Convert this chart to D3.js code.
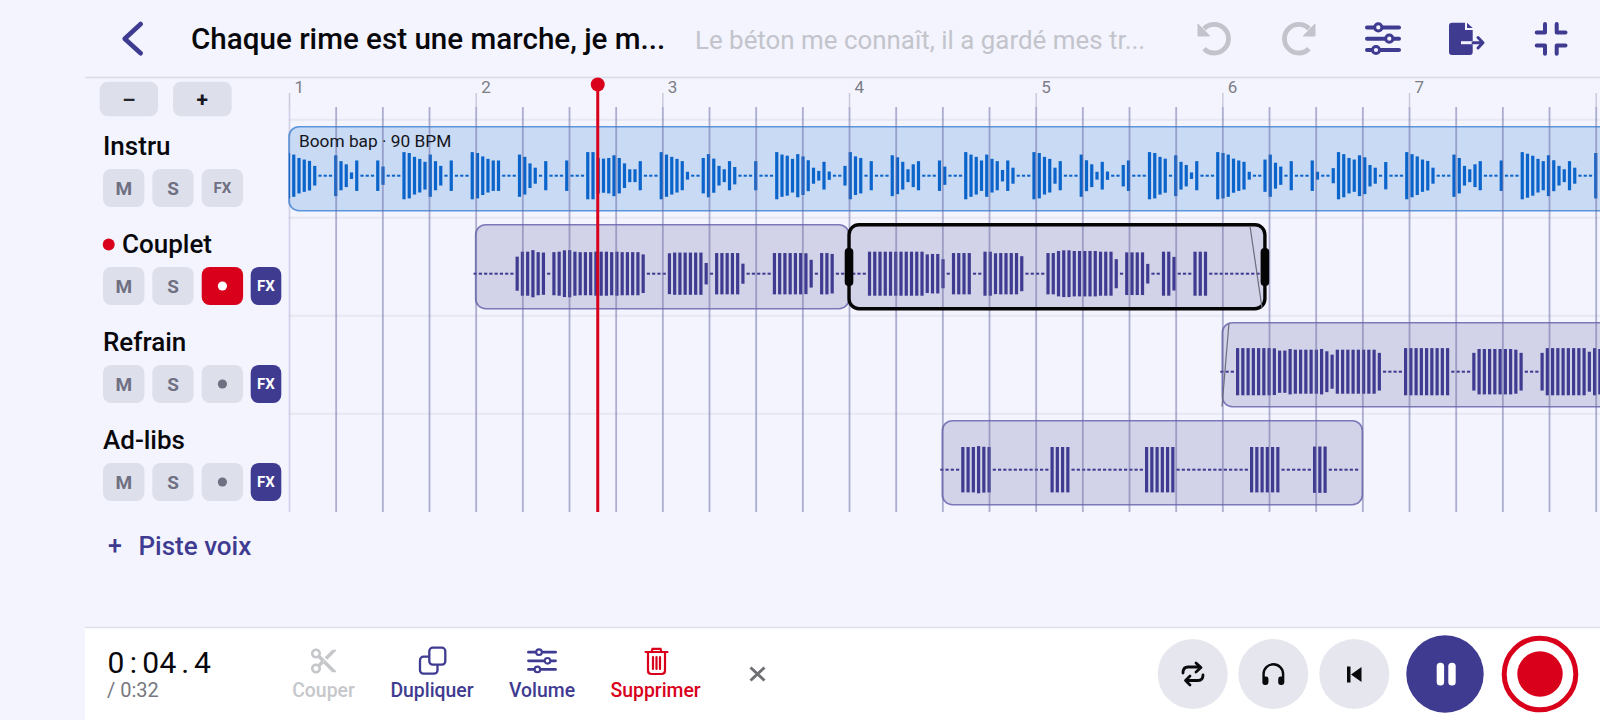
<!DOCTYPE html>
<html>
<head>
<meta charset="utf-8">
<script src="https://cdn.jsdelivr.net/npm/d3@7"></script>
<style>
  html, body { margin: 0; padding: 0; background: #f3f4fe; overflow: hidden; }
  text { font-family: Roboto, sans-serif; }
</style>
</head>
<body>
<script>
// Data
var trackNames = ['Instru', 'Couplet', 'Refrain', 'Ad-libs'];
var barLines = [1, 2, 3, 4, 5, 6, 7, 8];
var lastBarLabel = 7;
var beatsPerBar = 4;
var barsShown = 7.25;
var playheadBar = 2.654;
var timeNow = '0:04.4';
var timeTotal = '/ 0:32';
var clipLabel = 'Boom bap · 90 BPM';

// amplitude per sample, 0 = silence (drawn as a little dash)
var instruWave = [
  .96,.89,.74,.67,.61,.39,0,0,0,.86,.6,.46,.1,.63,0,0,0,.63,.36,0,0,0,
  1,.96,.79,.7,.57,.89,.6,.39,0,.63,0,0,0,1,.96,.81,.7,.63,.63,0,0,0,
  .89,.79,.5,.31,0,.6,0,0,0,.63,0,0,0,1,1,.74,.71,.74,.86,.74,.5,.24,.24,.6,0,0,0,
  1,.89,.79,.7,.6,.13,0,0,.74,.91,.71,.39,.24,.6,.34,0,0,0,.6,0,0,0,
  1,.89,.84,.7,.91,.81,.64,.31,.17,.57,.14,0,0,.39,1,.81,.74,0,.6,0,0,0,
  .86,.77,.57,.24,.46,.6,0,0,0,.63,.36,0,0,0,1,.89,.79,.63,.89,.7,.6,.21,.63,.31,0,0,0,
  1,.96,.79,.7,.31,.6,0,0,0,.89,.64,.46,.13,.57,.14,0,0,.43,.63,0,0,0,
  1,.96,.79,.71,0,.86,.57,.43,.1,.6,0,0,0,1,.96,.89,.71,.63,.57,.13,0,0,
  .67,.89,.53,.36,0,.6,0,0,0,.63,.13,0,0,.29,1,.91,.74,.67,.86,.77,.43,.31,0,.56,0,0,0,
  1,.91,.81,.67,.61,.31,0,0,0,.89,.74,.39,.24,.46,.6,0,0,0,.63,0,0,0,
  1,.93,.84,.7,.6,.86,.64,.39,.24,.6,.31,0,0,0,.96
];
var coupletWaveA = [
  0,0,0,0,0,0,0,0,.71,.93,.93,1,.91,.89,0,.91,.93,.99,1,.93,
  .91,.91,.91,.93,.93,.93,.91,.93,.91,.91,.91,.91,.81,0,0,0,0,
  .86,.89,.89,.89,.89,.89,.89,.43,0,.87,.87,.87,.87,.87,.4,0,0,0,0,0,
  .87,.87,.87,.87,.87,.87,.86,.57,0,.87,.87,.83,0,0
];
var coupletWaveB = [
  0,0,0,0,.93,.93,.93,.93,.93,.93,.93,.93,.93,.93,.93,.81,.83,.83,.6,0,
  .87,.87,.87,.87,0,0,.93,.93,.86,.87,.87,.87,.87,.73,0,0,0,0,
  .87,.87,.96,.99,.99,.96,.96,.96,.96,.96,.93,.93,.93,.6,0,
  .9,.9,.9,.9,.39,0,0,.93,.93,.7,0,0,0,.93,.93,.93,
  0,0,0,0,0,0,0,0,0,0
];
var refrainWave = [
  0,0,0,1,1,1,1,1,1,1,.99,.89,.89,.96,.93,.93,.93,.93,.93,.96,.86,.71,
  .93,.93,.93,.93,.93,.93,.93,.93,.79,0,0,0,0,
  1,1,1,1,1,1,1,1,1,0,0,0,0,.79,.96,.96,.96,.96,.96,.96,.96,.93,.79,0,0,0,
  .79,1,1,1,1,1,1,1,1,.84,1,.96
];
var adlibsWave = [
  0,0,0,0,.96,.96,.96,1,.97,.96,0,0,0,0,0,0,0,0,0,0,0,
  .96,.96,.96,.96,0,0,0,0,0,0,0,0,0,0,0,0,0,0,
  .96,.96,.96,.96,.96,.96,0,0,0,0,0,0,0,0,0,0,0,0,0,0,
  .96,.96,.96,.96,.96,.96,0,0,0,0,0,0,.98,.98,.98,0,0,0,0,0,0
];

// clips: start and end in bars
var clips = [
  {track: 0, start: 1, end: 9, wave: instruWave, kind: 'instru'},
  {track: 1, start: 2, end: 4, wave: coupletWaveA, kind: 'voice'},
  {track: 1, start: 4, end: 6.228, wave: coupletWaveB, kind: 'voice', selected: true},
  {track: 2, start: 6, end: 9, wave: refrainWave, kind: 'voice'},
  {track: 3, start: 4.5, end: 6.75, wave: adlibsWave, kind: 'voice'}
];

var W = 1600, H = 720;
var purple = '#3f3b91', red = '#d9001b', bg = '#f3f4fe', btnGrey = '#dddfeb', btnText = '#6f7082';

var svg = d3.select('body').append('svg')
    .attr('width', W)
    .attr('height', H)
    .style('display', 'block');

var defs = svg.append('defs');

// Scales
var xBar = d3.scaleLinear().domain([1, 2]).range([289, 475.67]);
var rowCenter = d3.scaleLinear().domain([0, 1]).range([168.7, 266.7]);
var samplesPerBar = 186.67 / 5.25;
var amp = d3.scaleLinear().domain([0, 1]).range([1, 23.6]);

var rows = d3.range(trackNames.length);

// Ruler lines and row separators
svg.append('line')
    .attr('x1', 85).attr('x2', W).attr('y1', 77.5).attr('y2', 77.5)
    .attr('stroke', '#d9dbe7').attr('stroke-width', 1.5);

svg.selectAll('.sep')
  .data(d3.range(-0.5, 3, 1))
  .enter().append('line')
    .attr('class', 'sep')
    .attr('x1', 289).attr('x2', W)
    .attr('y1', function (d) { return rowCenter(d); })
    .attr('y2', function (d) { return rowCenter(d); })
    .attr('stroke', '#e6e7f1').attr('stroke-width', 2);

// Clips
var clipG = svg.selectAll('.clip')
  .data(clips)
  .enter().append('g')
    .attr('class', 'clip');

function clipY(d) { return rowCenter(d.track) - 42; }

// only the instru bars are cut by their clip
defs.append('clipPath')
    .attr('id', 'instruClip')
  .append('rect')
    .attr('x', xBar(clips[0].start))
    .attr('y', clipY(clips[0]))
    .attr('width', xBar(clips[0].end) - xBar(clips[0].start))
    .attr('height', 84)
    .attr('rx', 10);

clipG.append('rect')
    .attr('x', function (d) { return xBar(d.start); })
    .attr('y', clipY)
    .attr('width', function (d) { return xBar(d.end) - xBar(d.start); })
    .attr('height', 84)
    .attr('rx', 10)
    .attr('fill', function (d) { return d.kind == 'instru' ? '#c8daf4' : '#d2d3e8'; })
    .attr('stroke', function (d) { return d.kind == 'instru' ? '#5b96dc' : '#7d79b9'; })
    .attr('stroke-width', 1.6);

clipG.append('g')
    .attr('clip-path', function (d) { return d.kind == 'instru' ? 'url(#instruClip)' : null; })
  .selectAll('rect')
  .data(function (d) {
    return d.wave.map(function (v, i) {
      return {v: v, bar: d.start + i / samplesPerBar, y: rowCenter(d.track) + 7, kind: d.kind};
    });
  })
  .enter().append('rect')
    .attr('x', function (d) { return xBar(d.bar) - 2.1; })
    .attr('y', function (d) { return d.y - amp(d.v); })
    .attr('width', 3.2)
    .attr('height', function (d) { return amp(d.v) * 2; })
    .attr('fill', function (d) { return d.kind == 'instru' ? '#0b64ca' : purple; });

// Beat grid, through the axis
var beats = d3.range(0, barsShown * beatsPerBar + 1).map(function (b) { return 1 + b / beatsPerBar; });

var gridAxis = d3.axisBottom(xBar)
    .tickValues(beats)
    .tickSize(512 - 107)
    .tickFormat('');

var gridG = svg.append('g')
    .attr('transform', 'translate(0,107)')
    .call(gridAxis);
gridG.select('.domain').remove();
gridG.selectAll('.tick line')
    .attr('stroke', '#66669f')
    .attr('stroke-opacity', function (d) { return d == 1 ? 0.22 : 0.5; })
    .attr('stroke-width', 1.8);

// Bar numbers
var barAxis = d3.axisBottom(xBar)
    .tickValues(barLines)
    .tickSize(14)
    .tickFormat(function (d) { return d <= lastBarLabel ? d : ''; });

var barG = svg.append('g')
    .attr('transform', 'translate(0,93)')
    .call(barAxis);
barG.select('.domain').remove();
barG.selectAll('.tick line')
    .attr('stroke', '#c9cadd')
    .attr('stroke-width', 1.5);
barG.selectAll('.tick text')
    .attr('x', 5)
    .attr('y', 0)
    .attr('dy', 0)
    .attr('text-anchor', 'start')
    .attr('fill', '#7c7d86')
    .style('font-family', 'Roboto, sans-serif')
    .style('font-size', '17px');

// Instru clip label
svg.append('text')
    .attr('x', 299).attr('y', 146.5)
    .attr('font-size', 17.3).attr('fill', '#15151c')
    .text(clipLabel);

// Selected clip outline with its handles
var sel = clips[2];
svg.append('rect')
    .attr('x', xBar(sel.start)).attr('y', clipY(sel))
    .attr('width', xBar(sel.end) - xBar(sel.start)).attr('height', 84)
    .attr('rx', 10)
    .attr('fill', 'none').attr('stroke', '#050505').attr('stroke-width', 3.4);

svg.selectAll('.handle')
  .data([sel.start, sel.end])
  .enter().append('rect')
    .attr('class', 'handle')
    .attr('x', function (d) { return xBar(d) - 4.3; })
    .attr('y', 248)
    .attr('width', 8.6).attr('height', 38)
    .attr('rx', 4)
    .attr('fill', '#050505');

// Fade markers
function fadeLine(x1, y1, x2, y2) {
  svg.append('line')
      .attr('x1', x1).attr('y1', y1).attr('x2', x2).attr('y2', y2)
      .attr('stroke', '#6d6d7d').attr('stroke-width', 1.2);
}
fadeLine(1250, 226, 1262, 308);
fadeLine(1229, 323, 1222, 406.5);

// Playhead
svg.append('line')
    .attr('x1', xBar(playheadBar)).attr('x2', xBar(playheadBar))
    .attr('y1', 84).attr('y2', 512)
    .attr('stroke', red).attr('stroke-width', 3);
svg.append('circle')
    .attr('cx', xBar(playheadBar)).attr('cy', 84.5).attr('r', 7)
    .attr('fill', red);

// Header
svg.append('path')
    .attr('d', 'M140.7,24 L124.7,38.8 L140.7,53.3')
    .attr('fill', 'none').attr('stroke', purple)
    .attr('stroke-width', 4.6).attr('stroke-linecap', 'round').attr('stroke-linejoin', 'round');

svg.append('text')
    .attr('x', 191).attr('y', 49)
    .attr('font-size', 29.6).attr('font-weight', 500).attr('fill', '#08080c')
    .text('Chaque rime est une marche, je m...');

svg.append('text')
    .attr('x', 695).attr('y', 49)
    .attr('font-size', 25.9).attr('fill', '#c3c4cb')
    .text('Le béton me connaît, il a gardé mes tr...');

// undo / redo
function arrowArc(cx, flip) {
  var g = svg.append('g')
      .attr('transform', 'translate(' + cx + ',38.7) scale(' + flip + ',1)');
  g.append('path')
      .attr('d', 'M-10,-10 A14.3,14.3 0 1 1 -10,10')
      .attr('fill', 'none').attr('stroke', '#c3c4cb').attr('stroke-width', 4.8);
  g.append('path')
      .attr('d', 'M-16,-14.7 L-16,-2.7 L-4.3,-2.7 Z')
      .attr('fill', '#c3c4cb').attr('stroke', '#c3c4cb').attr('stroke-linejoin', 'round');
}
arrowArc(1214, 1);
arrowArc(1299, -1);

// sliders icon, used on top and in the bottom bar
function sliders(cx, cy, halfW, gap, knobs, r, sw, fillColor) {
  var g = svg.append('g').attr('transform', 'translate(' + cx + ',' + cy + ')');
  knobs.forEach(function (k, i) {
    var y = (i - 1) * gap;
    g.append('line')
        .attr('x1', -halfW).attr('x2', halfW).attr('y1', y).attr('y2', y)
        .attr('stroke', purple).attr('stroke-width', sw).attr('stroke-linecap', 'round');
    g.append('circle')
        .attr('cx', k).attr('cy', y).attr('r', r)
        .attr('fill', fillColor).attr('stroke', purple).attr('stroke-width', sw * 0.75);
  });
}
sliders(1383, 38.7, 16, 11.3, [-4.7, 6.3, -7], 3.6, 4, bg);

// export icon
svg.append('path')
    .attr('d', 'M1452,22.7 L1465,22.7 L1465,30 L1472.7,30 L1472.7,52 Q1472.7,55 1470,55 L1452,55 Q1449,55 1449,52 L1449,25.7 Q1449,22.7 1452,22.7 Z')
    .attr('fill', purple);
svg.append('path')
    .attr('d', 'M1467,22.7 L1472.7,28 L1467,28 Z')
    .attr('fill', purple);
svg.append('line')
    .attr('x1', 1461).attr('x2', 1473).attr('y1', 42.7).attr('y2', 42.7)
    .attr('stroke', bg).attr('stroke-width', 3);
svg.append('path')
    .attr('d', 'M1473,42.7 L1482,42.7 M1478,37.5 L1483,42.7 L1478,48')
    .attr('fill', 'none').attr('stroke', purple).attr('stroke-width', 3)
    .attr('stroke-linecap', 'round').attr('stroke-linejoin', 'round');

// collapse icon
svg.append('path')
    .attr('transform', 'translate(1551,38.8)')
    .attr('d', 'M-14.3,-6.3 L-6,-6.3 L-6,-14.7 M5.7,-14.7 L5.7,-6.3 L14.5,-6.3 M-14.3,6.7 L-6,6.7 L-6,15 M14.5,6.7 L5.7,6.7 L5.7,15')
    .attr('fill', 'none').attr('stroke', purple).attr('stroke-width', 4)
    .attr('stroke-linecap', 'round').attr('stroke-linejoin', 'round');

// Zoom buttons
function button(x, y, w, h, fill, label, size, color) {
  svg.append('rect')
      .attr('x', x).attr('y', y).attr('width', w).attr('height', h)
      .attr('rx', 8).attr('fill', fill);
  if (label) {
    svg.append('text')
        .attr('x', x + w / 2).attr('y', y + h / 2 + size * 0.36)
        .attr('text-anchor', 'middle')
        .attr('font-size', size).attr('font-weight', 700).attr('fill', color)
        .text(label);
  }
}
button(99.7, 81.7, 58.3, 34.6, btnGrey, '–', 21, '#26262e');
button(173, 81.7, 58.7, 34.6, btnGrey, '+', 21, '#16161c');

// Track headers
var rowTop = d3.scaleLinear().domain([0, 1]).range([169, 267]);
var labelBase = [155, 252.7, 351, 448.7];
var labelX = [103, 122, 103, 103];

rows.forEach(function (r) {
  svg.append('text')
      .attr('x', labelX[r]).attr('y', labelBase[r])
      .attr('font-size', 26).attr('font-weight', 500).attr('fill', '#08080c')
      .text(trackNames[r]);

  var y = rowTop(r);
  button(103, y, 41.4, 38, btnGrey, 'M', 19, btnText);
  button(152.3, y, 41.4, 38, btnGrey, 'S', 19, btnText);
  if (r == 0) {
    button(201.7, y, 41.4, 38, btnGrey, 'FX', 15, btnText);
  } else {
    button(201.7, y, 41.4, 38, r == 1 ? red : btnGrey, null);
    svg.append('circle')
        .attr('cx', 222.4).attr('cy', y + 19).attr('r', 4.6)
        .attr('fill', r == 1 ? '#ffffff' : btnText);
    button(250.7, y, 30.6, 38, purple, 'FX', 15, '#ffffff');
  }
});

svg.append('circle')
    .attr('cx', 108.7).attr('cy', 244.4).attr('r', 6)
    .attr('fill', red);

svg.append('text')
    .attr('x', 108).attr('y', 554)
    .attr('font-size', 25).attr('font-weight', 500).attr('fill', purple)
    .text('+');
svg.append('text')
    .attr('x', 138.5).attr('y', 554.5)
    .attr('font-size', 26).attr('font-weight', 500).attr('fill', purple)
    .text('Piste voix');

// Bottom bar
svg.append('rect')
    .attr('x', 85).attr('y', 628).attr('width', W - 85).attr('height', H - 628)
    .attr('fill', '#ffffff');
svg.append('line')
    .attr('x1', 85).attr('x2', W).attr('y1', 627.5).attr('y2', 627.5)
    .attr('stroke', '#dfe0ea').attr('stroke-width', 1.5);

// fixed width cells for the clock, like a tabular display
svg.append('text')
    .attr('x', d3.range(timeNow.length).map(function (i) { return 116 + 17.3 * i; }).join(' '))
    .attr('y', 672.5)
    .attr('text-anchor', 'middle')
    .attr('font-size', 30).attr('fill', '#08080c')
    .text(timeNow);
svg.append('text')
    .attr('x', 107).attr('y', 697)
    .attr('font-size', 20).attr('fill', '#77787f')
    .text(timeTotal);

// Bottom actions
var actionNames = ['Couper', 'Dupliquer', 'Volume', 'Supprimer'];
var actionX = [323.5, 432, 542, 655.6];
var actionColor = ['#c6c7cb', purple, purple, red];

svg.selectAll('.action')
  .data(actionNames)
  .enter().append('text')
    .attr('class', 'action')
    .attr('x', function (d, i) { return actionX[i]; })
    .attr('y', 697)
    .attr('text-anchor', 'middle')
    .attr('font-size', 19.4).attr('font-weight', 500)
    .attr('fill', function (d, i) { return actionColor[i]; })
    .text(function (d) { return d; });

// scissors
svg.append('path')
    .attr('transform', 'translate(308.5,646) scale(1.25)')
    .attr('d', 'M9.64 7.64c.23-.5.36-1.05.36-1.64 0-2.21-1.79-4-4-4S2 3.79 2 6s1.79 4 4 4c.59 0 1.14-.13 1.64-.36L10 12l-2.36 2.36C7.14 14.13 6.59 14 6 14c-2.21 0-4 1.79-4 4s1.79 4 4 4 4-1.79 4-4c0-.59-.13-1.14-.36-1.64L12 14l7 7h3v-1L9.64 7.64zM6 8c-1.1 0-2-.89-2-2s.9-2 2-2 2 .89 2 2-.9 2-2 2zm0 12c-1.1 0-2-.89-2-2s.9-2 2-2 2 .89 2 2-.9 2-2 2zm6-7.5c-.28 0-.5-.22-.5-.5s.22-.5.5-.5.5.22.5.5-.22.5-.5.5zM19 3l-6 6 2 2 7-7V3z')
    .attr('fill', '#c6c7cb');

// duplicate
svg.append('rect')
    .attr('x', 420).attr('y', 656.7).attr('width', 17.5).attr('height', 17)
    .attr('rx', 3.5).attr('fill', '#ffffff').attr('stroke', purple).attr('stroke-width', 2.3);
svg.append('rect')
    .attr('x', 429.3).attr('y', 647.7).attr('width', 16).attr('height', 17)
    .attr('rx', 3.5).attr('fill', '#ffffff').attr('stroke', purple).attr('stroke-width', 2.3);

sliders(542, 660.8, 13.5, 8.6, [-3, 5.5, -4.6], 2.8, 2.8, '#ffffff');

// trash
svg.append('path')
    .attr('d', 'M645.5,652 L667.5,652 M651.5,652 L652.5,648.8 L660.5,648.8 L661.5,652 M648,652 L648,670.5 Q648,674 651.5,674 L661.5,674 Q665,674 665,670.5 L665,652 M653,657 L653,669 M656.5,657 L656.5,669 M660,657 L660,669')
    .attr('fill', 'none').attr('stroke', red).attr('stroke-width', 2.2).attr('stroke-linecap', 'round');

// close
svg.append('path')
    .attr('d', 'M750.5,667.5 L764.5,680.5 M764.5,667.5 L750.5,680.5')
    .attr('fill', 'none').attr('stroke', '#6f7074').attr('stroke-width', 3);

// Transport
var roundX = [1192.7, 1273.3, 1354.3];
svg.selectAll('.round')
  .data(roundX)
  .enter().append('circle')
    .attr('class', 'round')
    .attr('cx', function (d) { return d; })
    .attr('cy', 674).attr('r', 35)
    .attr('fill', '#e6e7ee');

svg.append('path')
    .attr('transform', 'translate(1182,663)')
    .attr('d', 'M1,10 Q1,4 6,4 L18,4 M14,0 L19,4.5 L14,9 M21,12 Q21,17.5 16,17.5 L4,17.5 M8,13 L3.5,17.5 L8,22')
    .attr('fill', 'none').attr('stroke', '#0a0a0c').attr('stroke-width', 2.8)
    .attr('stroke-linecap', 'round').attr('stroke-linejoin', 'round');

svg.append('path')
    .attr('transform', 'translate(1258.7,659.4) scale(1.22)')
    .attr('d', 'M12 3a9 9 0 0 0-9 9v7c0 1.1.9 2 2 2h1a2 2 0 0 0 2-2v-3a2 2 0 0 0-2-2H5v-2a7 7 0 0 1 14 0v2h-1a2 2 0 0 0-2 2v3c0 1.1.9 2 2 2h1a2 2 0 0 0 2-2v-7a9 9 0 0 0-9-9z')
    .attr('fill', '#0a0a0c');

svg.append('path')
    .attr('transform', 'translate(1344,666.5)')
    .attr('d', 'M3,0 h3.5 v16 h-3.5 Z M7,8 L17.5,0.5 V15.5 Z')
    .attr('fill', '#0a0a0c');

svg.append('circle')
    .attr('cx', 1445).attr('cy', 674).attr('r', 38.7)
    .attr('fill', purple);
svg.selectAll('.pausebar')
  .data([-8.3, 3.3])
  .enter().append('rect')
    .attr('class', 'pausebar')
    .attr('x', function (d) { return 1445 + d; })
    .attr('y', 662.7).attr('width', 7.4).attr('height', 22.7)
    .attr('rx', 3.5).attr('fill', '#ffffff');

svg.append('circle')
    .attr('cx', 1540).attr('cy', 674).attr('r', 35.8)
    .attr('fill', '#ffffff').attr('stroke', red).attr('stroke-width', 5);
svg.append('circle')
    .attr('cx', 1540).attr('cy', 674).attr('r', 22.7)
    .attr('fill', red);
</script>
</body>
</html>
